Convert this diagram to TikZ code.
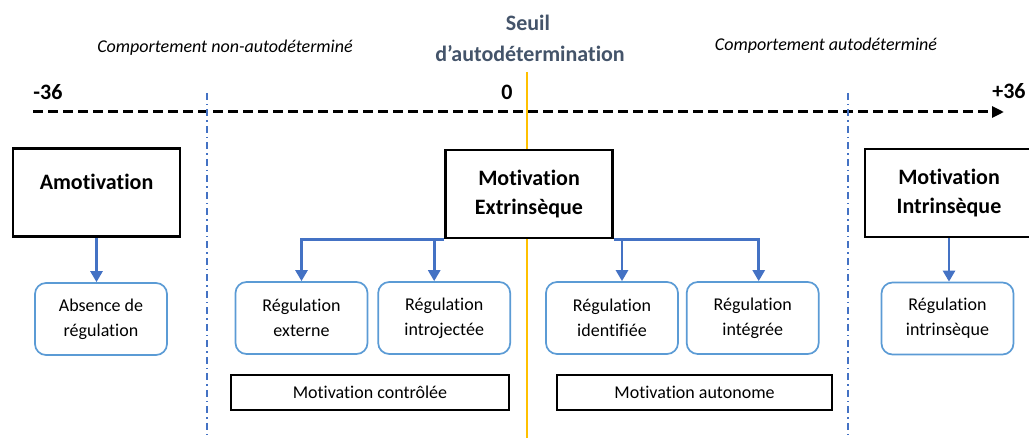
\documentclass[tikz,border=0pt]{standalone}
\usepackage{fontspec}
\setmainfont{Carlito}[Ligatures={NoCommon,TeX}]
\usetikzlibrary{arrows.meta,positioning}
\definecolor{seuilgray}{HTML}{44546A}
\definecolor{linkblue}{HTML}{4472C4}
\definecolor{regblue}{HTML}{5B9BD5}
\definecolor{seuilyellow}{HTML}{FFC000}
\tikzset{
  mainbox/.style={draw, line width=2.6pt, fill=white, minimum width=167pt,
    minimum height=88pt, align=center, font=\bfseries\fontsize{22}{29}\selectfont},
  regbox/.style={draw=regblue, line width=1.7pt, rounded corners=11pt, fill=white,
    minimum width=132pt, minimum height=72pt, align=center,
    font=\fontsize{18}{25}\selectfont},
  groupbox/.style={draw, line width=1.4pt, minimum height=35pt,
    font=\fontsize{18}{22}\selectfont},
  scalelabel/.style={anchor=base, inner sep=0pt, font=\bfseries\fontsize{22}{26}\selectfont},
  zonelabel/.style={anchor=base, inner sep=0pt, font=\itshape\fontsize{18}{22}\selectfont},
  link/.style={linkblue, line width=2.6pt, -{Triangle[width=12pt,length=11pt]}},
  zoneline/.style={linkblue, line width=2pt, dash pattern=on 7pt off 4pt on 1.5pt off 4pt}
}

\begin{document}
\begin{tikzpicture}[x=1pt, y=-1pt]
  \useasboundingbox (0,0) rectangle (1029,438);
  \clip (0,0) rectangle (1029,438);

  % titles and scale
  \node[scalelabel, text=seuilgray] (seuil) at (528,31) {Seuil};
  \node[scalelabel, text=seuilgray] (seuil2) at (530,62) {d’autodétermination};
  \node[zonelabel] (nonauto) at (225,53) {Comportement non-autodéterminé};
  \node[zonelabel] (auto) at (826,51) {Comportement autodéterminé};
  \node[scalelabel] (min) at (48,100) {-36};
  \node[scalelabel] (zero) at (507,100) {0};
  \node[scalelabel] (max) at (1009,99) {+36};

  \coordinate (axstart) at (33,112);
  \coordinate (axend) at (1004,112);
  \draw[line width=3pt, dash pattern=on 10pt off 5pt,
        -{Triangle[width=11pt,length=12pt]}] (axstart) -- (axend);

  % borders of the zones
  \coordinate (seuiltop) at (527,72);
  \coordinate (seuilbot) at (527,438);
  \draw[seuilyellow, line width=2.6pt] (seuiltop) -- (seuilbot);
  \coordinate (leftop) at (207,93);
  \coordinate (lefbot) at (207,438);
  \coordinate (rigtop) at (848,93);
  \coordinate (rigbot) at (848,438);
  \draw[zoneline] (leftop) -- (lefbot);
  \draw[zoneline] (rigtop) -- (rigbot);

  % types of motivation
  \node[mainbox, text depth=21pt] (amot) at (96.5,192.5) {Amotivation};
  \node[mainbox] (extr) at (529,194) {Motivation\\Extrinsèque};
  \node[mainbox, minimum width=168pt] (intr) at (949,193) {Motivation\\Intrinsèque};

  % regulations
  \node[regbox] (absreg) at (101,319) {Absence de\\régulation};
  \node[regbox] (ext) at (301.5,318) {Régulation\\externe};
  \node[regbox, right=9pt of ext] (intro) {Régulation\\introjectée};
  \node[regbox] (ident) at (612,318) {Régulation\\identifiée};
  \node[regbox, right=7pt of ident] (integ) {Régulation\\intégrée};
  \node[regbox] (intrreg) at (947.5,318.5) {Régulation\\intrinsèque};

  \node[groupbox, minimum width=278pt] (contr) at (370,392.5) {Motivation contrôlée};
  \node[groupbox, minimum width=275pt] (auton) at (694.5,392.5) {Motivation autonome};

  \draw[link] (amot.south) -- (amot.south |- absreg.north);
  \draw[link] (extr.south west) -| (ext.north);
  \draw[link] ([xshift=-10pt]intro.north |- extr.south) -- ([xshift=-10pt]intro.north);
  \draw[link] (extr.south east) -| ([xshift=6pt]integ.north);
  \draw[link] ([xshift=10pt]ident.north |- extr.south) -- ([xshift=10pt]ident.north);
  \draw[link] (intr.south) -- (intr.south |- intrreg.north);
\end{tikzpicture}
\end{document}
